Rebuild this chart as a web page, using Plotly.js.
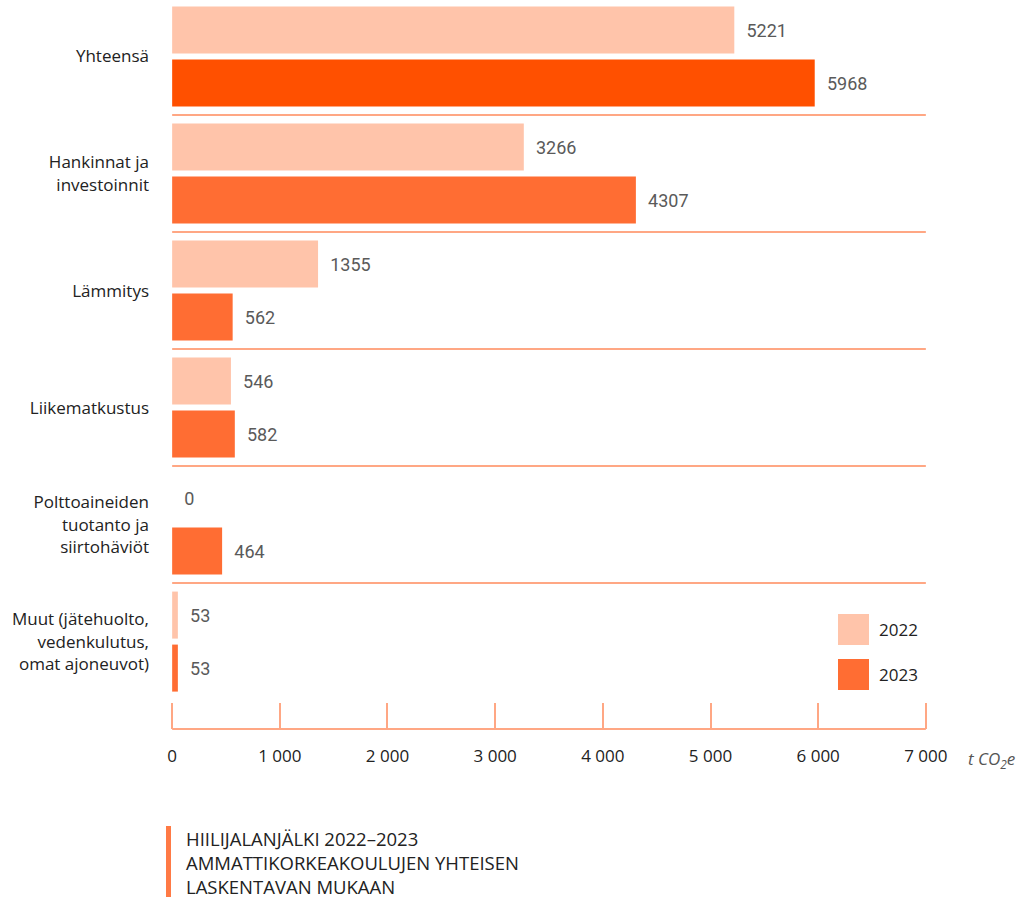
<!DOCTYPE html>
<html>
<head>
<meta charset="utf-8">
<script src="https://cdn.plot.ly/plotly-3.0.1.min.js"></script>
<style>html,body{margin:0;padding:0;background:#fff;}#chart{width:1016px;height:899px;}</style>
</head>
<body>
<div id="chart"></div>
<script>
const categories = [
  "Yhteensä",
  "Hankinnat ja<br>investoinnit",
  "Lämmitys",
  "Liikematkustus",
  "Polttoaineiden<br>tuotanto ja<br>siirtohäviöt",
  "Muut (jätehuolto,<br>vedenkulutus,<br>omat ajoneuvot)"
];
const seriesNames = ["2022", "2023"];
const values2022 = [5221, 3266, 1355, 546, 0, 53];
const values2023 = [5968, 4307, 562, 582, 464, 53];
const xTicks = [0, 1000, 2000, 3000, 4000, 5000, 6000, 7000];
const footerLines = ["HIILIJALANJÄLKI 2022–2023", "AMMATTIKORKEAKOULUJEN YHTEISEN", "LASKENTAVAN MUKAAN"];

const c2022 = "#ffc4aa";
const c2023 = "#ff6d33";
const cTotal2023 = "#ff5000";
const lineColor = "#ffa784";

const ML = 170, MR = 88, MT = 0, MB = 170, W = 1016, H = 899;
const PW = W - ML - MR, PH = H - MT - MB;
const px = x => (x - ML) / PW;
const py = y => 1 - (y - MT) / PH;

const textFont = {family: "Roboto, sans-serif", size: 18, color: "#5a5a5a"};

const traces = [
  {
    type: "bar", orientation: "h", name: seriesNames[0],
    y: categories, x: values2022,
    marker: {color: c2022},
    texttemplate: "\u2002%{x:d}", textposition: "outside", cliponaxis: false,
    textfont: textFont, showlegend: false, hoverinfo: "none"
  },
  {
    type: "bar", orientation: "h", name: seriesNames[1],
    y: categories, x: values2023,
    marker: {color: values2023.map((v, i) => i === 0 ? cTotal2023 : c2023)},
    texttemplate: "\u2002%{x:d}", textposition: "outside", cliponaxis: false,
    textfont: textFont, showlegend: false, hoverinfo: "none"
  }
];

const shapes = [];
for (let i = 0; i < categories.length - 1; i++) {
  shapes.push({type: "line", xref: "x", yref: "y", x0: xTicks[0], x1: xTicks[xTicks.length - 1], y0: i + 0.5, y1: i + 0.5,
    line: {color: lineColor, width: 2}});
}
// custom legend
const legendColors = [c2022, c2023];
const annotations = [];
seriesNames.forEach((n, i) => {
  const top = 614 + i * 45;
  shapes.push({type: "rect", xref: "paper", yref: "paper",
    x0: px(838), x1: px(869), y0: py(top + 31), y1: py(top),
    fillcolor: legendColors[i], line: {width: 0}});
  annotations.push({xref: "paper", yref: "paper", x: px(877), y: py(top + 15.5),
    xanchor: "left", yanchor: "middle", showarrow: false, text: n,
    font: {family: "Open Sans, sans-serif", size: 17, color: "#222"}});
});
// unit label
annotations.push({xref: "paper", yref: "paper", x: px(966), y: py(759),
  xanchor: "left", yanchor: "middle", showarrow: false,
  text: "<i>t CO<sub>2</sub>e</i>",
  font: {family: "Open Sans, sans-serif", size: 17, color: "#555"}});
// footer
shapes.push({type: "rect", xref: "paper", yref: "paper",
  x0: px(166), x1: px(171), y0: py(897), y1: py(826),
  fillcolor: "#ff7a45", line: {width: 0}});
annotations.push({xref: "paper", yref: "paper", x: px(184), y: py(824),
  xanchor: "left", yanchor: "top", align: "left", showarrow: false,
  text: footerLines.join("<br>"),
  font: {family: "Open Sans, sans-serif", size: 18.5, color: "#222"}});

const layout = {
  width: W, height: H,
  margin: {l: ML, r: MR, t: MT, b: MB, pad: 0},
  paper_bgcolor: "#fff", plot_bgcolor: "#fff",
  barmode: "group", bargap: 0.094, bargroupgap: 0.113,
  separators: ", ",
  showlegend: false,
  xaxis: {
    range: [-20, 7020], tickvals: xTicks, tickformat: ",d",
    showgrid: false, zeroline: false,
    showline: false,
    ticks: "inside", ticklen: 26, tickwidth: 2, tickcolor: lineColor,
    ticklabelstandoff: 15,
    tickfont: {family: "Open Sans, sans-serif", size: 17, color: "#222"},
    fixedrange: true
  },
  yaxis: {
    type: "category", categoryorder: "array", categoryarray: categories,
    range: [5.747, -0.483],
    showgrid: false, zeroline: false, showline: false, ticks: "",
    ticklabelstandoff: 20,
    tickfont: {family: "Open Sans, sans-serif", size: 17, color: "#222"},
    fixedrange: true
  },
  shapes: shapes.concat([{type: "line", xref: "x", yref: "paper",
    x0: xTicks[0], x1: xTicks[xTicks.length - 1], y0: 0, y1: 0,
    line: {color: lineColor, width: 2}}]),
  annotations: annotations
};

Plotly.newPlot("chart", traces, layout, {displayModeBar: false, staticPlot: true});
</script>
</body>
</html>
